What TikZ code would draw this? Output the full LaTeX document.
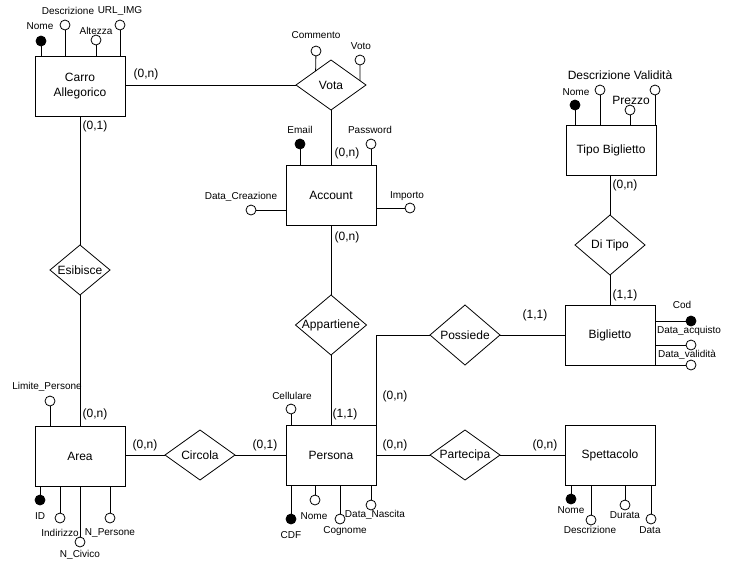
\documentclass[tikz,border=0pt]{standalone}
\usepackage{fontspec}
\setmainfont{Liberation Sans}
\usetikzlibrary{shapes.geometric,calc}
\begin{document}
\begin{tikzpicture}[x=1pt,y=-1pt,
  every node/.style={inner sep=0pt, outer sep=0pt},
  conn/.style={line width=0.8pt},
  entity/.style={draw, line width=0.8pt, rectangle, minimum width=90pt, minimum height=60pt,
    font=\fontsize{12}{14.5}\selectfont, align=center, fill=white},
  rel/.style={draw, line width=0.8pt, diamond, inner sep=-3pt, font=\fontsize{12}{14}\selectfont, fill=white},
  attr/.style={draw, circle, line width=0.8pt, minimum size=10pt, fill=white},
  keyattr/.style={attr, fill=black},
  lbl/.style={font=\fontsize{10}{12}\selectfont},
  big/.style={font=\fontsize{12}{14}\selectfont},
]
\useasboundingbox (0,0) rectangle (737,566);

% ---------- entities ----------
\node[entity] (carro) at (80,86) {Carro\\Allegorico};
\node[entity] (account) at (331,195) {Account};
\node[entity] (persona) at (331,455) {Persona};
\node[entity] (area) at (80,456) {Area};
\node[entity] (spett) at (610,455) {Spettacolo};
\node[entity] (bigl) at (610,335) {Biglietto};
\node[entity, minimum height=50pt] (tipo) at (611,150) {Tipo Biglietto};

% ---------- relationships ----------
\node[rel, minimum width=70pt, minimum height=50pt] (vota) at (331,85) {Vota};
\node[rel, minimum width=71pt, minimum height=60pt] (appart) at (331,325) {Appartiene};
\node[rel, minimum width=60pt, minimum height=50pt] (esib) at (80,270) {Esibisce};
\node[rel, minimum width=70pt, minimum height=50pt] (circ) at (200,455) {Circola};
\node[rel, minimum width=70pt, minimum height=50pt] (partec) at (465,455) {Partecipa};
\node[rel, minimum width=70pt, minimum height=60pt] (poss) at (465,335) {Possiede};
\node[rel, minimum width=70pt, minimum height=60pt] (ditipo) at (610,245) {Di Tipo};

% ---------- connectors ----------
\draw[conn] (carro.east |- vota.west) -- (vota.west);
\draw[conn] (vota.south) -- (account.north -| vota.south);
\draw[conn] (account.south) -- (appart.north);
\draw[conn] (appart.south) -- (persona.north -| appart.south);
\draw[conn] (carro.south) -- (esib.north);
\draw[conn] (esib.south) -- (area.north);
\draw[conn] (area.east |- circ.west) -- (circ.west);
\draw[conn] (circ.east) -- (persona.west |- circ.east);
\draw[conn] (persona.east |- partec.west) -- (partec.west);
\draw[conn] (partec.east) -- (spett.west |- partec.east);
\draw[conn] (persona.north east) |- (poss.west);
\draw[conn] (poss.east) -- (bigl.west |- poss.east);
\draw[conn] (tipo.south -| ditipo.north) -- (ditipo.north);
\draw[conn] (ditipo.south) -- (bigl.north -| ditipo.south);

% ---------- cardinalities ----------
\node[big] (k1) at (146,74) {(0,n)};
\node[big] (k2) at (347,153) {(0,n)};
\node[big] (k3) at (347,237) {(0,n)};
\node[big] (k4) at (95,126) {(0,1)};
\node[big] (k5) at (95,414) {(0,n)};
\node[big] (k6) at (145,445) {(0,n)};
\node[big] (k7) at (265,445) {(0,1)};
\node[big] (k8) at (345,414) {(1,1)};
\node[big] (k9) at (395,445) {(0,n)};
\node[big] (k10) at (395,396) {(0,n)};
\node[big] (k11) at (545,445) {(0,n)};
\node[big] (k12) at (535,315) {(1,1)};
\node[big] (k13) at (625,185) {(0,n)};
\node[big] (k14) at (625,295) {(1,1)};

% ---------- Carro Allegorico attributes ----------
\node[keyattr] (cNome) at (41,41) {};
\node[attr] (cDescr) at (65,25) {};
\node[attr] (cAlt) at (96,40) {};
\node[attr] (cUrl) at (120,25) {};
\draw[conn] (cNome) -- (cNome |- carro.north);
\draw[conn] (cDescr) -- (cDescr |- carro.north);
\draw[conn] (cAlt) -- (cAlt |- carro.north);
\draw[conn] (cUrl) -- (cUrl |- carro.north);
\node[lbl] (tcNome) at (40,26) {Nome};
\node[lbl] (tcDescr) at (68,11) {Descrizione};
\node[lbl] (tcAlt) at (96,31) {Altezza};
\node[lbl] (tcUrl) at (120,11) {URL\_IMG};

% ---------- Vota attributes ----------
\node[attr] (vComm) at (316,51) {};
\node[attr] (vVoto) at (360,60) {};
\draw[conn] (vComm) -- ($(vota.north)!0.44!(vota.west)$);
\draw[conn] (vVoto) -- ($(vota.north)!0.83!(vota.east)$);
\node[lbl] (tvComm) at (316,35) {Commento};
\node[lbl] (tvVoto) at (361,46) {Voto};

% ---------- Account attributes ----------
\node[keyattr] (aEmail) at (300,144) {};
\node[attr] (aPass) at (371,144) {};
\node[attr] (aImp) at (410,208) {};
\node[attr] (aData) at (251,210) {};
\draw[conn] (aEmail) -- (aEmail |- account.north);
\draw[conn] (aPass) -- (aPass |- account.north);
\draw[conn] (aImp) -- (aImp -| account.east);
\draw[conn] (aData) -- (aData -| account.west);
\node[lbl] (taEmail) at (300,130) {Email};
\node[lbl] (taPass) at (370,130) {Password};
\node[lbl] (taImp) at (407,196) {Importo};
\node[lbl] (taData) at (241,197) {Data\_Creazione};

% ---------- Persona attributes ----------
\node[attr] (pCell) at (291,409) {};
\node[keyattr] (pCdf) at (291,519) {};
\node[attr] (pNome) at (315,500) {};
\node[attr] (pCogn) at (340,519) {};
\node[attr] (pNasc) at (371,505) {};
\draw[conn] (pCell) -- (pCell |- persona.north);
\draw[conn] (pCdf) -- (pCdf |- persona.south);
\draw[conn] (pNome) -- (pNome |- persona.south);
\draw[conn] (pCogn) -- (pCogn |- persona.south);
\draw[conn] (pNasc) -- (pNasc |- persona.south);
\node[lbl] (tpCell) at (292,396) {Cellulare};
\node[lbl] (tpCdf) at (291,535) {CDF};
\node[lbl] (tpNome) at (314,516) {Nome};
\node[lbl] (tpCogn) at (345,531) {Cognome};
\node[lbl] (tpNasc) at (375,515) {Data\_Nascita};

% ---------- Area attributes ----------
\node[attr] (rLim) at (50,401) {};
\node[keyattr] (rId) at (40,500) {};
\node[attr] (rInd) at (60,518) {};
\node[attr] (rCiv) at (80,542) {};
\node[attr] (rNp) at (110,518) {};
\draw[conn] (rLim) -- (rLim |- area.north);
\draw[conn] (rId) -- (rId |- area.south);
\draw[conn] (rInd) -- (rInd |- area.south);
\draw[conn] (rCiv) -- (rCiv |- area.south);
\draw[conn] (rNp) -- (rNp |- area.south);
\node[lbl] (trLim) at (47,387) {Limite\_Persone};
\node[lbl] (trId) at (40,516) {ID};
\node[lbl] (trInd) at (60,533) {Indirizzo};
\node[lbl] (trCiv) at (80,555) {N\_Civico};
\node[lbl] (trNp) at (110,533) {N\_Persone};

% ---------- Spettacolo attributes ----------
\node[keyattr] (sNome) at (571,499) {};
\node[attr] (sDescr) at (591,520) {};
\node[attr] (sDur) at (625,505) {};
\node[attr] (sData) at (651,519) {};
\draw[conn] (sNome) -- (sNome |- spett.south);
\draw[conn] (sDescr) -- (sDescr |- spett.south);
\draw[conn] (sDur) -- (sDur |- spett.south);
\draw[conn] (sData) -- (sData |- spett.south);
\node[lbl] (tsNome) at (571,510) {Nome};
\node[lbl] (tsDescr) at (590,530) {Descrizione};
\node[lbl] (tsDur) at (625,515) {Durata};
\node[lbl] (tsData) at (650,530) {Data};

% ---------- Biglietto attributes ----------
\node[keyattr] (bCod) at (691,321) {};
\node[attr] (bAcq) at (691,345) {};
\node[attr] (bVal) at (691,365) {};
\draw[conn] (bCod) -- (bCod -| bigl.east);
\draw[conn] (bAcq) -- (bAcq -| bigl.east);
\draw[conn] (bVal) -- (bVal -| bigl.east);
\node[lbl] (tbCod) at (682,305) {Cod};
\node[lbl] (tbAcq) at (689,331) {Data\_acquisto};
\node[lbl] (tbVal) at (687,355) {Data\_validità};

% ---------- Tipo Biglietto attributes ----------
\node[keyattr] (tNome) at (575,105) {};
\node[attr] (tDescr) at (600,90) {};
\node[attr] (tPrezzo) at (630,110) {};
\node[attr] (tVal) at (655,90) {};
\draw[conn] (tNome) -- (tNome |- tipo.north);
\draw[conn] (tDescr) -- (tDescr |- tipo.north);
\draw[conn] (tPrezzo) -- (tPrezzo |- tipo.north);
\draw[conn] (tVal) -- (tVal |- tipo.north);
\node[lbl] (ttNome) at (576,92) {Nome};
\node[big] (ttPrezzo) at (631,100) {Prezzo};
\node[big] (ttDescrVal) at (620,75) {Descrizione Validità};
\end{tikzpicture}
\end{document}
